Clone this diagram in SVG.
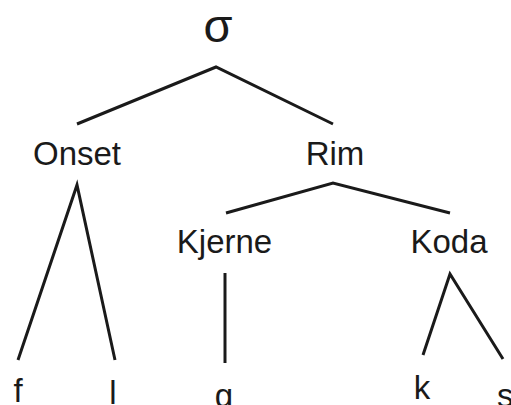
<svg xmlns="http://www.w3.org/2000/svg" width="511" height="405" viewBox="0 0 511 405">
  <style>
    .lbl { font-family: "Liberation Sans", Arial, sans-serif; font-size: 33px; fill: #1a1a1a; text-anchor: middle; }
    .sig { font-size: 47px; }
    .edge { stroke: #1a1a1a; stroke-width: 3; fill: none; stroke-linecap: butt; stroke-linejoin: miter; }
  </style>
  <rect width="511" height="405" fill="#ffffff"/>
  <g id="connectors">
    <polyline class="edge" points="77,124 216,67 333,124"/>
    <polyline class="edge" points="226,213 333,183 450,213"/>
    <polyline class="edge" points="18,360 77,185 115,360"/>
    <line class="edge" x1="225" y1="273" x2="225" y2="363"/>
    <polyline class="edge" points="423,355 450,274 503,359"/>
  </g>
  <g id="node-sigma"><text class="lbl sig" x="218" y="42">σ</text></g>
  <g id="node-onset"><text class="lbl" x="77" y="165">Onset</text></g>
  <g id="node-rim"><text class="lbl" x="335" y="165">Rim</text></g>
  <g id="node-kjerne"><text class="lbl" x="224.5" y="253">Kjerne</text></g>
  <g id="node-koda"><text class="lbl" x="449" y="253">Koda</text></g>
  <g id="node-f"><text class="lbl" x="18" y="402">f</text></g>
  <g id="node-l"><text class="lbl" x="113" y="404">l</text></g>
  <g id="node-g"><text class="lbl" x="224" y="407">g</text></g>
  <g id="node-k"><text class="lbl" x="422" y="399">k</text></g>
  <g id="node-s"><text class="lbl" x="497" y="407" style="text-anchor:start">s</text></g>
</svg>
